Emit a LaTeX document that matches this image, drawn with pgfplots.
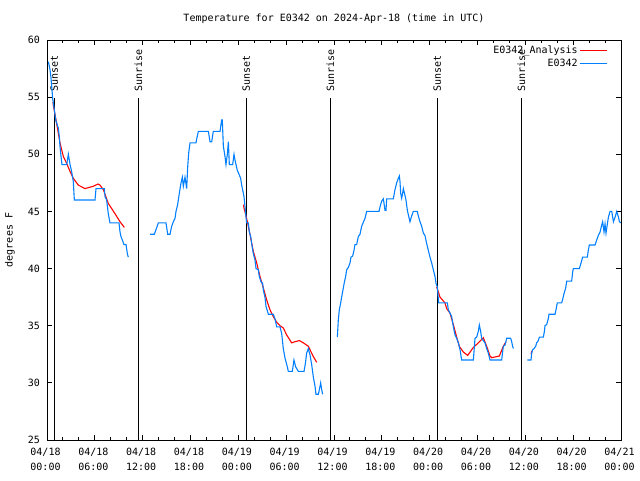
\documentclass[border=0pt]{standalone}
\usepackage{fontspec}
\setmainfont{DejaVu Sans Mono}
\usepackage{pgfplots}
\pgfplotsset{compat=1.18}
\definecolor{obsblue}{RGB}{0,128,255}
\begin{document}
\fontsize{10}{12}\selectfont
\begin{tikzpicture}
\useasboundingbox (0,0) rectangle (640pt,480pt);
\begin{axis}[
    at={(47pt,40pt)}, anchor=south west,
    scale only axis, width=574pt, height=400pt,
    xmin=0, xmax=72, ymin=25, ymax=60,
    enlargelimits=false,
    axis line style={black, line width=0.9pt},
    tick align=inside,
    major tick length=5pt, minor tick length=3pt,
    every tick/.style={black, line width=0.9pt},
    xtick={0,6,...,72},
    minor x tick num=2,
    xticklabels={04/18\\00:00,04/18\\06:00,04/18\\12:00,04/18\\18:00,
                 04/19\\00:00,04/19\\06:00,04/19\\12:00,04/19\\18:00,
                 04/20\\00:00,04/20\\06:00,04/20\\12:00,04/20\\18:00,
                 04/21\\00:00},
    xticklabel style={font=\fontsize{10}{15}\selectfont, align=center,
        inner sep=0pt, anchor=north, yshift=-8pt, xshift=-1.5pt},
    ytick={25,30,...,60},
    /pgf/number format/assume math mode=true,
    yticklabel style={font=\fontsize{10}{12}\selectfont, anchor=east,
        inner sep=0pt, xshift=-7pt},
    legend style={draw=none, fill=none, at={(rel axis cs:1,1)},
        anchor=north east, xshift=-10pt, yshift=-2pt,
        font=\fontsize{10}{12}\selectfont,
        nodes={inner sep=2pt}},
    legend cell align=right,
    legend plot pos=right,
    legend image code/.code={\draw[#1] (0pt,0pt) -- (27pt,0pt);},
]
% sunset / sunrise markers
\addplot[black, line width=1pt, forget plot] coordinates {(0.92,25) (0.92,54.9)};
\addplot[black, line width=1pt, forget plot] coordinates {(11.45,25) (11.45,54.9)};
\addplot[black, line width=1pt, forget plot] coordinates {(25.0,25) (25.0,54.9)};
\addplot[black, line width=1pt, forget plot] coordinates {(35.56,25) (35.56,54.9)};
\addplot[black, line width=1pt, forget plot] coordinates {(48.96,25) (48.96,54.9)};
\addplot[black, line width=1pt, forget plot] coordinates {(59.5,25) (59.5,54.9)};
\node[rotate=90, anchor=west, inner sep=0pt] at (axis cs:0.92,55.45) {Sunset};
\node[rotate=90, anchor=west, inner sep=0pt] at (axis cs:11.45,55.45) {Sunrise};
\node[rotate=90, anchor=west, inner sep=0pt] at (axis cs:25.0,55.45) {Sunset};
\node[rotate=90, anchor=west, inner sep=0pt] at (axis cs:35.56,55.45) {Sunrise};
\node[rotate=90, anchor=west, inner sep=0pt] at (axis cs:48.96,55.45) {Sunset};
\node[rotate=90, anchor=west, inner sep=0pt] at (axis cs:59.5,55.45) {Sunrise};

% analysis (red)
\addplot[red, line width=1.1pt] coordinates {
(0.75,54.6) (0.79,54.3) (1.21,52.7) (1.63,51.0) (2.05,49.8) (2.47,49.2)
(2.89,48.5) (3.30,47.9) (3.93,47.3) (4.77,47.0) (5.81,47.2) (6.40,47.4)
(6.65,47.3) (7.07,46.9) (7.69,45.7) (8.53,44.8) (9.16,44.1) (9.70,43.6)};
\addlegendentry{E0342\_Analysis}

% observations (blue)
\addplot[obsblue, line width=1.1pt] coordinates {
(0.17,58.1) (0.38,57.4) (0.50,56.7) (0.71,54.9) (0.92,53.9) (1.09,53.0)
(1.42,52.3) (1.55,51.5) (1.63,50.7) (1.76,49.8) (1.88,49.1) (2.47,49.1)
(2.68,50.0) (2.89,49.1) (3.09,48.5) (3.30,47.6) (3.43,46.0) (6.02,46.0)
(6.15,47.0) (7.19,47.0) (7.28,46.3) (7.48,46.0) (7.69,44.8) (7.90,44.0)
(9.03,44.0) (9.16,43.2) (9.28,42.8) (9.45,42.5) (9.66,42.1) (9.91,42.1)
(10.08,41.3) (10.20,41.0)};
\addlegendentry{E0342}

\addplot[red, line width=1.1pt, forget plot] coordinates {
(24.65,45.6) (24.71,45.3) (25.04,44.4) (25.25,43.7) (25.46,43.0) (25.88,41.5)
(26.30,40.5) (26.72,39.3) (27.14,38.3) (27.56,37.25) (27.97,36.4) (28.39,35.8)
(28.81,35.3) (29.23,35.0) (29.64,34.8) (30.06,34.2) (30.69,33.5) (31.11,33.6)
(31.65,33.7) (32.16,33.5) (32.78,33.2) (32.99,32.9) (33.41,32.3) (33.83,31.8)};
\addplot[red, line width=1.1pt, forget plot] coordinates {
(48.88,38.4) (49.30,37.5) (49.92,37.0) (50.13,36.5) (50.55,36.1) (50.97,35.1)
(51.39,34.0) (51.72,33.2) (52.22,32.7) (52.77,32.4) (53.48,33.1) (54.10,33.5)
(54.73,33.95) (55.15,33.2) (55.57,32.35) (55.78,32.2) (56.74,32.35) (57.24,33.2)
(57.58,33.6)};
\addplot[red, line width=1.1pt, forget plot] coordinates {
(60.72,32.5) (60.82,32.8)};

\addplot[obsblue, line width=1.1pt, forget plot] coordinates {
(12.92,43.0) (13.46,43.0) (13.67,43.4) (13.97,44.0) (14.93,44.0) (15.14,43.0)
(15.43,43.0) (15.64,43.7) (15.85,44.1) (16.06,44.4) (16.18,45.0) (16.39,45.6)
(16.60,46.6) (16.81,47.5) (16.98,48.0) (17.10,47.2) (17.31,48.0) (17.52,47.0)
(17.65,48.9) (17.77,50.1) (17.94,51.0) (18.69,51.0) (18.77,51.3) (18.98,52.0)
(20.24,52.0) (20.45,51.1) (20.66,51.1) (20.86,52.0) (21.70,52.0) (21.91,53.0)
(21.99,53.0) (22.12,50.7) (22.33,49.8) (22.45,49.1) (22.62,50.0) (22.75,51.1)
(22.87,49.1) (23.29,49.1) (23.46,50.0) (23.58,49.5) (23.71,49.1) (23.87,48.6)
(24.12,48.2) (24.29,47.9) (24.42,47.3) (24.54,46.9) (24.71,46.3) (24.84,45.4)
(24.96,44.5) (25.04,44.0) (25.25,44.0) (25.38,43.2) (25.55,42.8) (25.67,42.2)
(25.88,41.3) (26.09,40.75) (26.22,40.0) (26.51,39.9) (26.63,39.3) (26.84,38.85)
(27.05,38.7) (27.14,38.1) (27.34,37.5) (27.47,36.7) (27.77,36.0) (28.39,36.0)
(28.60,35.6) (28.81,34.9) (29.23,34.9) (29.44,34.3) (29.64,33.0) (29.86,32.15)
(30.15,31.4) (30.27,31.0) (30.77,31.0) (30.98,32.0) (31.19,31.4) (31.53,31.0)
(32.24,31.0) (32.41,31.7) (32.57,32.6) (32.78,33.0) (32.99,32.45) (33.20,31.6)
(33.41,30.5) (33.62,29.7) (33.74,29.0) (34.04,29.0) (34.16,29.4) (34.33,30.0)
(34.46,29.4) (34.58,29.0)};
\addplot[obsblue, line width=1.1pt, forget plot] coordinates {
(36.42,34.0) (36.54,35.5) (36.67,36.4) (36.84,37.0) (36.96,37.5) (37.17,38.3)
(37.30,38.8) (37.46,39.3) (37.59,39.9) (37.80,40.1) (38.01,40.5) (38.13,41.0)
(38.34,41.1) (38.51,41.6) (38.63,42.1) (38.84,42.1) (39.05,42.8) (39.26,43.0)
(39.47,43.7) (39.68,44.05) (39.89,44.4) (40.10,45.0) (41.65,45.0) (41.77,45.4)
(41.98,45.9) (42.19,46.1) (42.40,45.1) (42.52,45.1) (42.61,46.1) (43.44,46.1)
(43.65,46.9) (43.86,47.5) (44.07,47.9) (44.20,48.1) (44.28,47.6) (44.36,46.6)
(44.49,46.15) (44.61,46.6) (44.70,47.0) (44.87,46.5) (45.03,46.0) (45.20,45.1)
(45.33,44.7) (45.53,44.1) (45.74,44.6) (45.95,45.0) (46.45,45.0) (46.58,44.6)
(46.79,44.1) (47.00,43.7) (47.21,43.1) (47.41,42.9) (47.62,42.2) (47.83,41.6)
(48.04,41.0) (48.25,40.5) (48.46,39.9) (48.67,39.3) (48.80,38.7) (48.96,38.4)
(49.13,37.0) (50.22,37.0) (50.34,36.4) (50.55,36.1) (50.76,35.8) (50.97,34.9)
(51.18,34.2) (51.39,33.9) (51.60,33.5) (51.81,32.9) (52.01,32.0) (53.48,32.0)
(53.69,33.9) (53.90,34.0) (54.10,34.5) (54.23,35.06) (54.40,34.5) (54.52,33.9)
(54.73,33.7) (54.94,33.5) (55.15,33.0) (55.36,32.6) (55.57,32.0) (57.03,32.0)
(57.24,33.2) (57.45,33.3) (57.66,33.9) (58.16,33.9) (58.29,33.6) (58.41,33.2)
(58.50,33.0)};
\addplot[obsblue, line width=1.1pt, forget plot] coordinates {
(60.25,32.0) (60.71,32.0) (60.80,32.6) (60.92,32.9) (61.09,33.0) (61.30,33.2)
(61.42,33.5) (61.63,33.7) (61.76,34.0) (62.26,34.0) (62.39,34.5) (62.47,35.0)
(62.68,35.1) (62.89,35.65) (62.97,36.0) (63.72,36.0) (63.85,36.4) (64.01,37.0)
(64.56,37.0) (64.68,37.3) (64.85,37.8) (65.06,38.3) (65.19,38.9) (65.81,38.9)
(65.94,39.7) (66.02,40.0) (66.78,40.0) (66.99,40.5) (67.19,41.0) (67.78,41.0)
(67.90,41.6) (68.03,42.06) (68.74,42.06) (68.95,42.5) (69.16,42.9) (69.37,43.2)
(69.58,43.8) (69.70,44.1) (69.87,43.2) (70.00,43.9) (70.12,43.1) (70.29,43.9)
(70.42,44.5) (70.63,45.0) (70.84,45.0) (71.05,44.1) (71.26,44.5) (71.47,45.0)
(71.68,44.5) (71.80,44.1) (72.0,44.0)};
\end{axis}
\node at (334pt,461pt) {Temperature for E0342 on 2024-Apr-18 (time in UTC)};
\node[rotate=90] at (10pt,240pt) {degrees F};
\end{tikzpicture}
\end{document}
